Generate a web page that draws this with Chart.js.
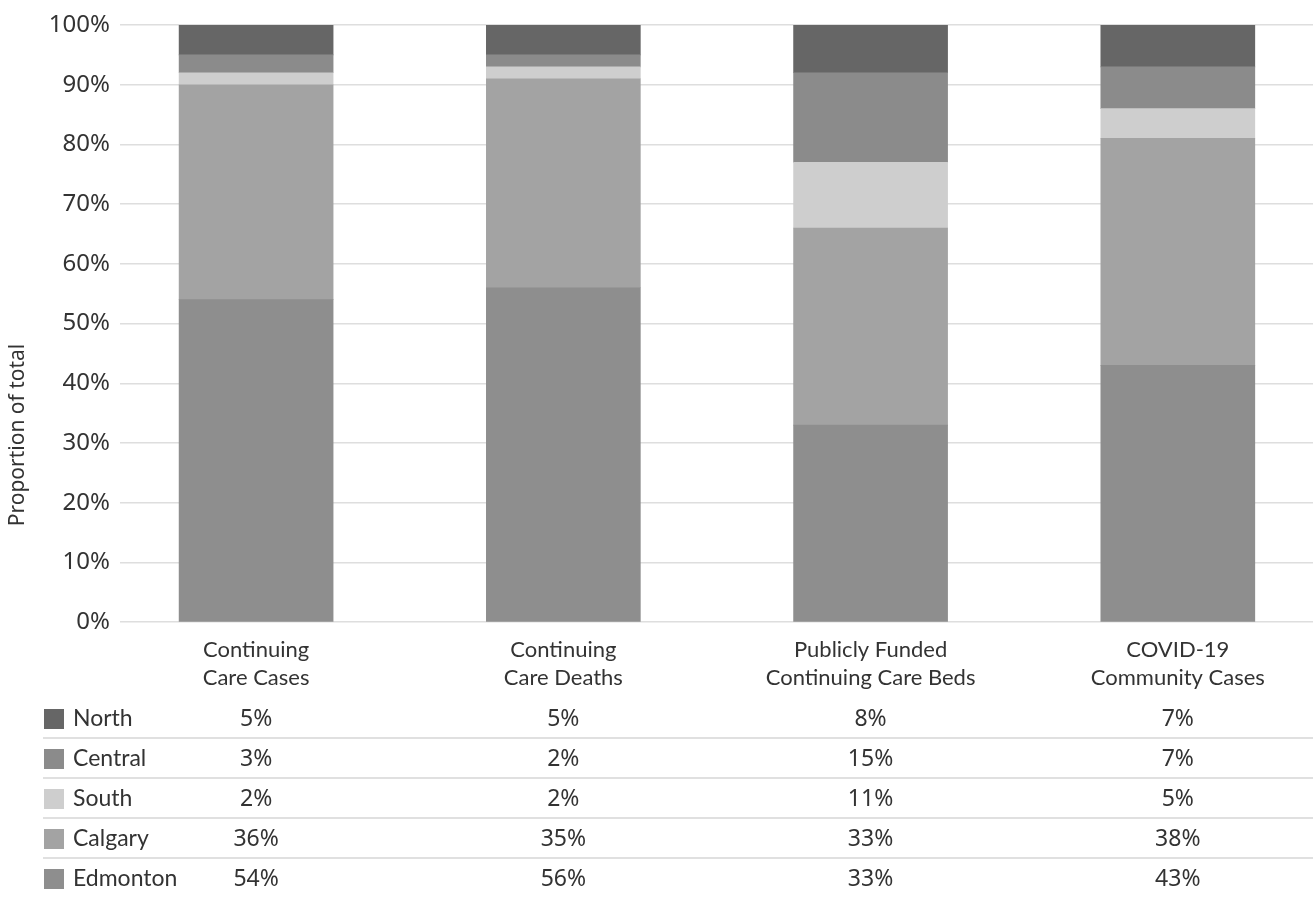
<!DOCTYPE html>
<html>
<head>
<meta charset="utf-8">
<script src="https://cdn.jsdelivr.net/npm/chart.js@4"></script>
<style>
  html, body { margin: 0; padding: 0; background: #fff; overflow: hidden; }
  #wrap { width: 1313px; height: 898px; position: relative; }
</style>
</head>
<body>
<div id="wrap"><canvas id="regionChart"></canvas></div>
<script>
// categories along the x axis (multi-line labels)
const categories = [
  ['Continuing', 'Care Cases'],
  ['Continuing', 'Care Deaths'],
  ['Publicly Funded', 'Continuing Care Beds'],
  ['COVID-19', 'Community Cases']
];

// zones, bottom of the stack first
const regions = ['Edmonton', 'Calgary', 'South', 'Central', 'North'];
const edmonton = [54, 56, 33, 43];
const calgary = [36, 35, 33, 38];
const south = [2, 2, 11, 5];
const central = [3, 2, 15, 7];
const north = [5, 5, 8, 7];

const yTicks = [0, 10, 20, 30, 40, 50, 60, 70, 80, 90, 100];

const seriesValues = [edmonton, calgary, south, central, north];
const regionColors = ['#8e8e8e', '#a3a3a3', '#cecece', '#8b8b8b', '#666666'];

const textColor = '#333333';
const sansFont = '"Noto Sans", "Open Sans", sans-serif';
const labelFont = 'Lato, "Noto Sans", sans-serif';

// Y title + the data table under the bars
const tablePlugin = {
  id: 'regionTable',
  afterDraw(chart) {
    const ctx = chart.ctx;
    const x = chart.scales.x;
    const top = 699, rowH = 40;

    ctx.save();
    // axis title, centred on the page height
    ctx.translate(18, 435);
    ctx.rotate(-Math.PI / 2);
    ctx.font = '21px ' + sansFont;
    ctx.fillStyle = textColor;
    ctx.textAlign = 'center';
    ctx.textBaseline = 'middle';
    ctx.fillText('Proportion of total', 0, 0);
    ctx.restore();

    ctx.save();
    // North on top, Edmonton last, same order as the stack
    for (let r = 0; r < regions.length; r++) {
      const k = regions.length - 1 - r;
      const yMid = top + r * rowH + rowH / 2;
      ctx.fillStyle = regionColors[k];
      ctx.fillRect(44, yMid - 10, 20, 20);

      ctx.fillStyle = textColor;
      ctx.textBaseline = 'middle';
      ctx.textAlign = 'left';
      ctx.font = '23px ' + labelFont;
      ctx.fillText(regions[k], 73, yMid);

      ctx.textAlign = 'center';
      ctx.font = '23px ' + sansFont;
      seriesValues[k].forEach((v, i) => {
        ctx.fillText(v + '%', x.getPixelForValue(i), yMid);
      });

      if (r < regions.length - 1) {
        ctx.strokeStyle = '#d6d6d6';
        ctx.lineWidth = 1.5;
        ctx.beginPath();
        ctx.moveTo(43, top + (r + 1) * rowH - 1);
        ctx.lineTo(chart.width, top + (r + 1) * rowH - 1);
        ctx.stroke();
      }
    }
    ctx.restore();
  }
};

new Chart(document.getElementById('regionChart').getContext('2d'), {
  type: 'bar',
  data: {
    datasets: regions.map((name, k) => ({
      label: name,
      data: seriesValues[k].map((v, i) => ({ x: i, y: v })),
      backgroundColor: regionColors[k],
      borderWidth: 0,
      barThickness: 154
    }))
  },
  options: {
    responsive: true,
    maintainAspectRatio: false,
    animation: false,
    layout: { padding: { top: 25, right: 0, bottom: 200, left: 0 } },
    plugins: {
      legend: { display: false },
      tooltip: { enabled: false }
    },
    scales: {
      x: {
        type: 'linear',
        stacked: true,
        offset: false,
        min: -0.443,
        max: 3.44,
        grid: { display: false, offset: false },
        border: { display: false },
        afterBuildTicks: s => { s.ticks = categories.map((c, i) => ({ value: i })); },
        ticks: {
          autoSkip: false,
          maxRotation: 0,
          padding: 6,
          color: textColor,
          font: { family: labelFont, size: 22, lineHeight: 1.27 },
          callback: v => categories[v]
        }
      },
      y: {
        stacked: true,
        min: 0,
        max: 100,
        afterBuildTicks: s => { s.ticks = yTicks.map(v => ({ value: v })); },
        afterFit: s => { s.width = 120; },
        grid: { color: '#dedede', lineWidth: 1.5, drawTicks: false },
        border: { display: false },
        ticks: {
          padding: 10,
          color: textColor,
          font: { family: sansFont, size: 24 },
          callback: v => v + '%'
        }
      }
    }
  },
  plugins: [tablePlugin]
});
</script>
</body>
</html>
